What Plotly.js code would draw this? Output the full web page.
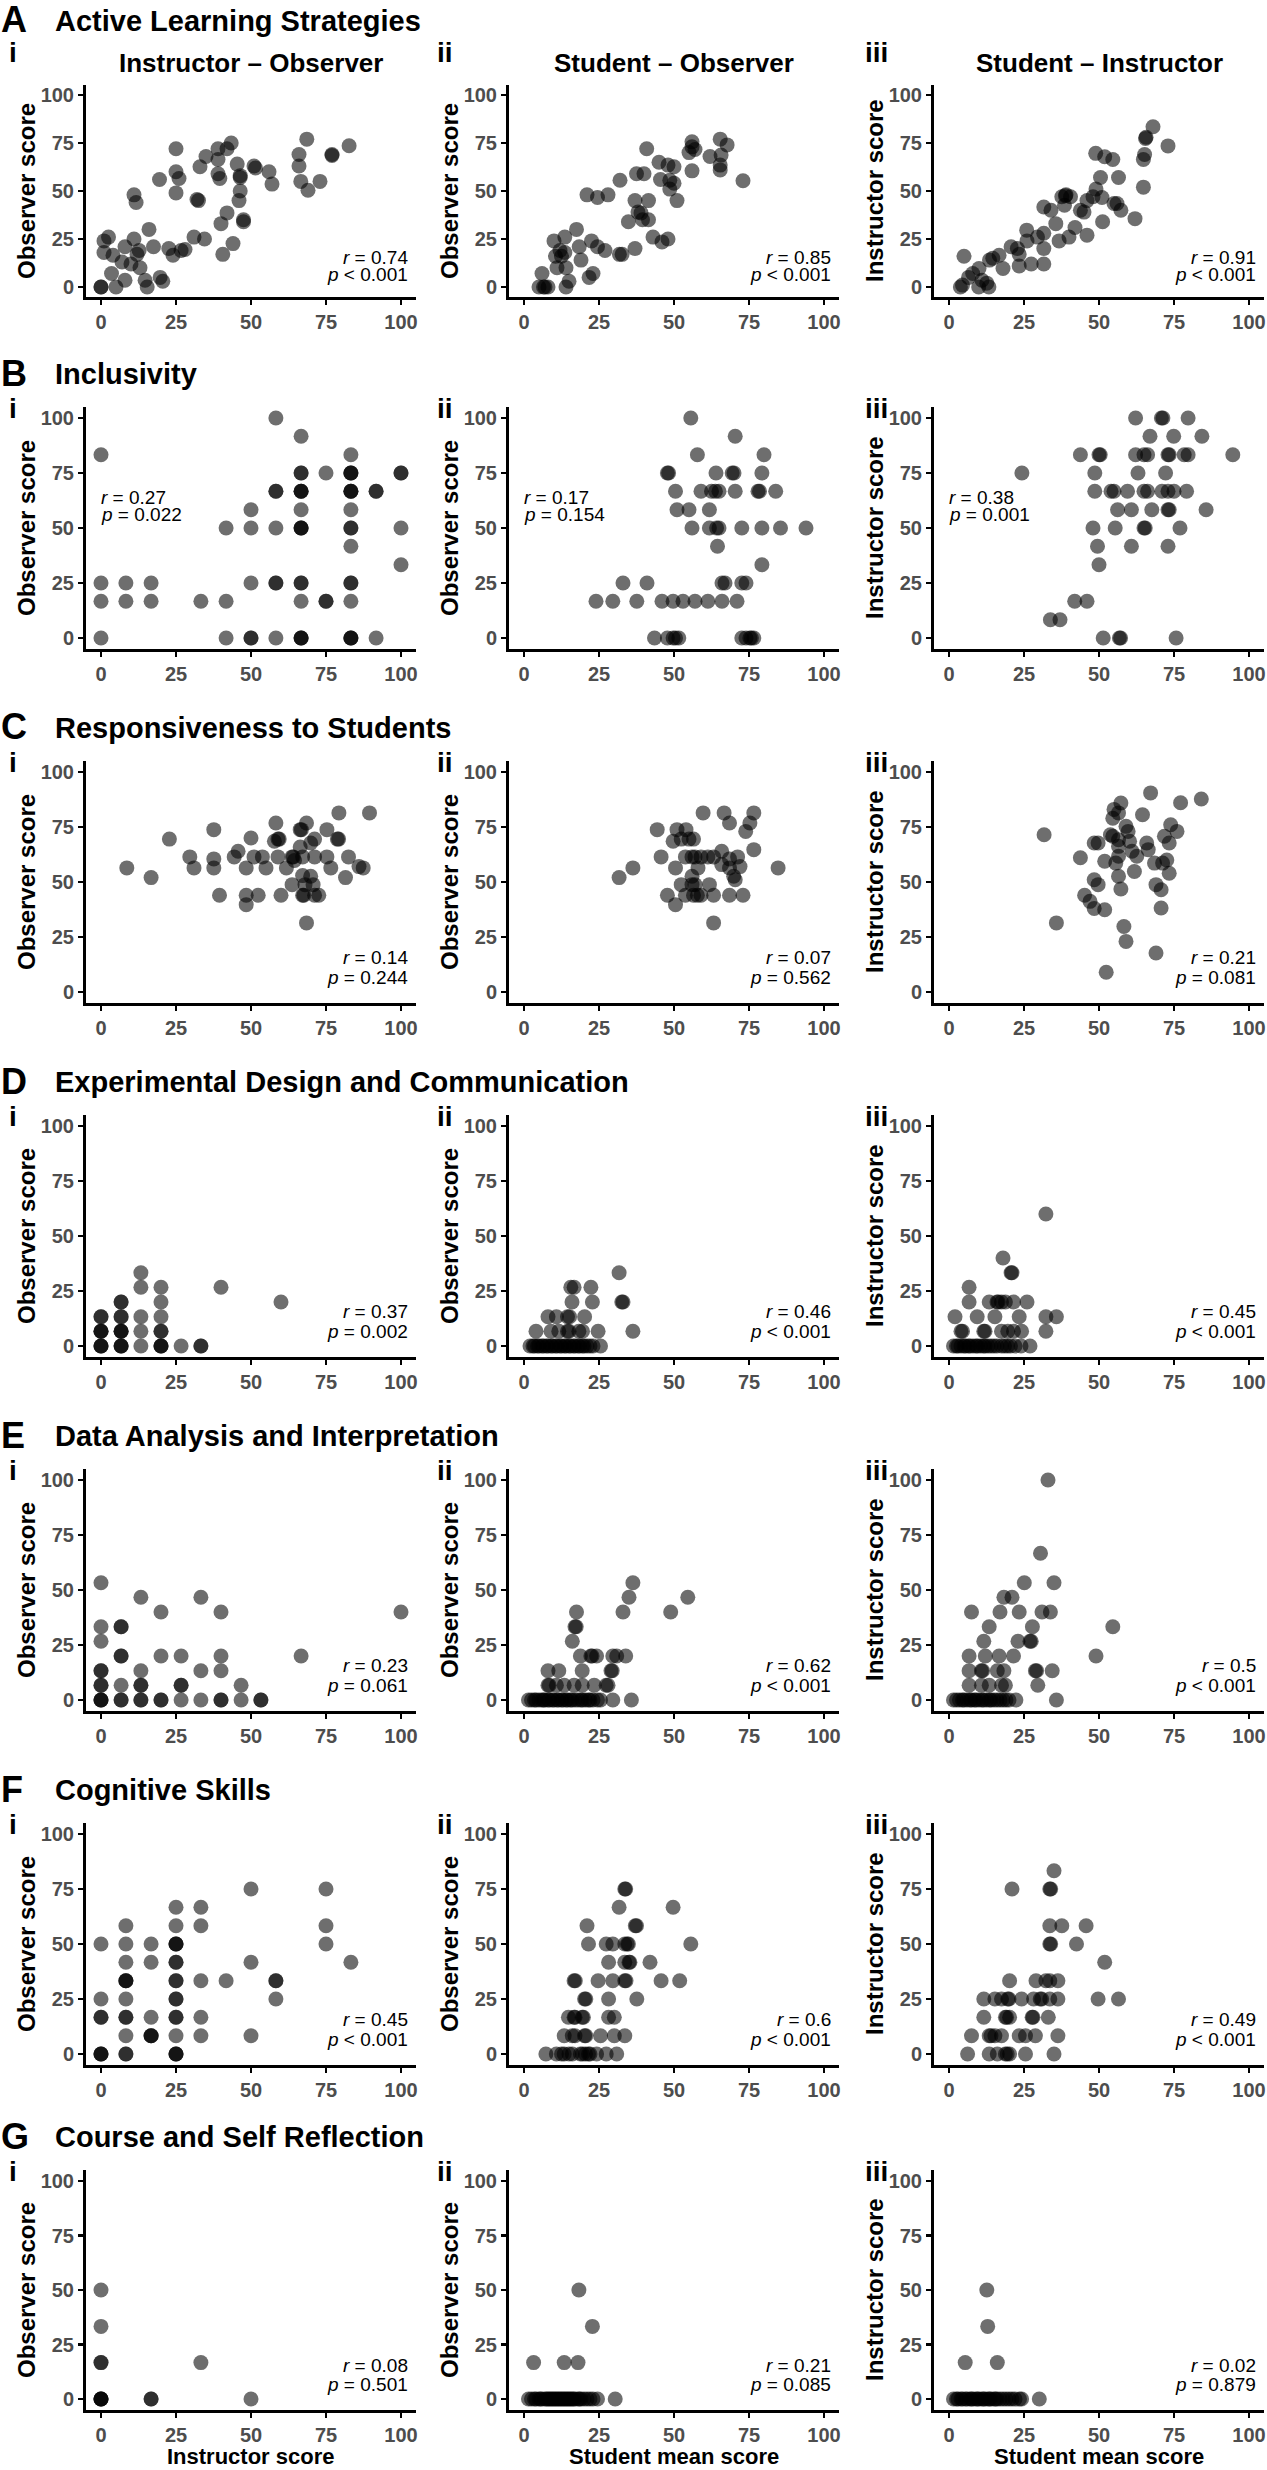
<!DOCTYPE html>
<html>
<head>
<meta charset="utf-8">
<script src="https://cdn.plot.ly/plotly-3.0.1.min.js"></script>
<style>html,body{margin:0;padding:0;background:#fff}#chart{width:1267px;height:2470px}</style>
</head>
<body>
<div id="chart"></div>
<script>
// ---------------- DATA ----------------
const rowLetters = ['A','B','C','D','E','F','G'];
const rowTitles = ['Active Learning Strategies','Inclusivity','Responsiveness to Students',
  'Experimental Design and Communication','Data Analysis and Interpretation','Cognitive Skills','Course and Self Reflection'];
const panelLabels = ['i','ii','iii'];
const colTitles = ['Instructor \u2013 Observer','Student \u2013 Observer','Student \u2013 Instructor'];
const yTitles = ['Observer score','Observer score','Instructor score'];
const xTitles = ['Instructor score','Student mean score','Student mean score'];
const tickVals = [0,25,50,75,100];
const tickText = ['0','25','50','75','100'];
const rVals = [['0.74','0.85','0.91'],['0.27','0.17','0.38'],['0.14','0.07','0.21'],
  ['0.37','0.46','0.45'],['0.23','0.62','0.5'],['0.45','0.6','0.49'],['0.08','0.21','0.02']];
const pVals = [['< 0.001','< 0.001','< 0.001'],['= 0.022','= 0.154','= 0.001'],['= 0.244','= 0.562','= 0.081'],
  ['= 0.002','< 0.001','< 0.001'],['= 0.061','< 0.001','< 0.001'],['< 0.001','< 0.001','< 0.001'],['= 0.501','= 0.085','= 0.879']];

// Points as [x, y]
const A_i = [[0,0],[0,0],[1,24],[2.5,26],[1,18],[4,16.5],[3.5,7],[5,0],[8,21],[7,13],[8,3.5],[11,48],[11.7,44],[11,25],[10,12],[12,17],[12.7,19],[13,10],[14.7,3.5],[15.4,0],[16,30],[17.5,21],[19.5,56],[19.7,5],[20.6,3],[22.6,20],[24,16.5],[25,72],[25,60],[26,56.5],[25,49],[26.7,19],[28,19.5],[31,26],[32,45.6],[32.5,45],[33,62.6],[34.5,25],[35,68],[39,72],[39,66.4],[39,59],[39.6,56.5],[40,33],[40.6,17],[42,38.6],[42,72],[43.4,75],[44,22.6],[45.4,64],[46,45],[46.4,50],[46.4,58],[46.4,57],[47.5,35],[47.5,34],[51,63],[51.5,62],[56,60],[57,53.6],[66,69],[66,63],[66.6,55],[68.6,77],[69,50.4],[73,55],[77,69],[77,68.5],[82.7,73.6]];
const A_ii = [[5,0],[6.5,0],[8,0],[7,0],[6,7],[10,24],[13.6,26],[12,19],[13.6,18],[10.5,16],[12.5,16],[11,10],[14,10],[14,0],[15,3],[17.5,30],[18.4,21],[19,14],[21.7,5],[23,7],[22.5,24],[24.5,21],[27,19],[21,48],[24.5,46.6],[28,48],[31.8,17],[32.7,17],[32,55.6],[34.8,34],[37,20],[37,45],[37.5,59],[38,39],[39.5,35],[41.5,35],[39,38.6],[41.5,45],[40.9,72],[40,59],[45,65],[45.5,56],[48,63.5],[48.6,55.6],[50,62.6],[48.6,51],[50,54],[51,45],[43,26],[46,23.5],[48,25],[56,75.6],[55,70],[57,71.6],[56,73],[56,60.5],[62,68],[65.4,77],[65.7,68.7],[65.4,63.5],[65.4,61],[67.7,74],[73,55.3]];
const A_iii = [[3.8,0],[4.5,1],[5,16],[6.5,5],[7.9,7],[9.9,0],[10,9.6],[11,3.5],[12.6,2],[13.3,0],[13.5,14],[14.6,15],[16.7,16.5],[18,9.6],[20.7,21],[22.8,20],[23.4,17],[23.4,11],[27.4,12],[31.6,12],[25.9,29.6],[26,24],[29.5,26],[31.6,28],[31.6,20],[31.6,41.7],[34,40],[35.6,33],[36.7,24],[40,26],[42,31],[46,27],[37.6,47],[39,48],[40.5,47],[38.5,42.6],[38.8,47.5],[43.8,40],[45,39],[46,45],[48,47],[49,51],[50.5,57],[51,46.6],[48.9,69.6],[51.9,67.8],[54.6,66.4],[51.2,34],[55,43.5],[56,43.5],[56.5,57],[57.3,40],[62,35.6],[64.8,52],[64.8,66.4],[65.2,69],[65.5,77.4],[65.7,78],[68,83.5],[73,73.5]];

const B_i = [[0,83.3],[0,25],[0,16.7],[0,0],[8.3,25],[8.3,16.7],[16.7,25],[16.7,16.7],[33.3,16.7],[41.7,50],[41.7,16.7],[41.7,0],[50,58.3],[50,50],[50,25],[50,0],[50,0],[58.3,100],[58.3,66.7],[58.3,66.7],[58.3,50],[58.3,25],[58.3,25],[58.3,0],[66.7,91.7],[66.7,75],[66.7,75],[66.7,66.7],[66.7,66.7],[66.7,66.7],[66.7,58.3],[66.7,50],[66.7,50],[66.7,50],[66.7,25],[66.7,25],[66.7,16.7],[66.7,0],[66.7,0],[66.7,0],[75,75],[75,16.7],[75,16.7],[83.3,83.3],[83.3,75],[83.3,75],[83.3,75],[83.3,66.7],[83.3,66.7],[83.3,66.7],[83.3,58.3],[83.3,50],[83.3,50],[83.3,41.7],[83.3,25],[83.3,25],[83.3,16.7],[83.3,0],[83.3,0],[83.3,0],[91.7,66.7],[91.7,66.7],[91.7,0],[100,75],[100,75],[100,50],[100,33.3]];
const B_ii = [[55.6,100],[70.4,91.7],[57.8,83.3],[80,83.3],[47.8,75],[48.2,75],[64,75],[69.4,75],[70,75],[79.3,75],[50.5,66.7],[59,66.7],[62.5,66.7],[63.8,66.7],[65,66.7],[70.4,66.7],[78,66.7],[78.5,66.7],[83.9,66.7],[51,58.3],[55,58.3],[61.8,58.3],[56,50],[61.8,50],[64.2,50],[65,50],[72.6,50],[79.3,50],[85.5,50],[94,50],[64.5,41.7],[79.3,33.3],[33,25],[41,25],[66,25],[67,25],[72.6,25],[74,25],[24,16.7],[29.6,16.7],[37.6,16.7],[46,16.7],[49.7,16.7],[53,16.7],[57,16.7],[61.3,16.7],[66,16.7],[71,16.7],[43.5,0],[47.8,0],[49.7,0],[51.6,0],[50.5,0],[72.6,0],[74,0],[75.3,0],[76.6,0],[75.8,0]];
const B_iii = [[62.2,100],[70.8,100],[71.3,100],[79.7,100],[67,91.7],[74.9,91.7],[84.3,91.7],[43.8,83.3],[50,83.3],[50.4,83.3],[62.2,83.3],[65,83.3],[66.2,83.3],[73,83.3],[73.4,83.3],[78.4,83.3],[79.7,83.3],[94.6,83.3],[24.3,75],[48.6,75],[63,75],[72.2,75],[48.6,66.7],[54,66.7],[55,66.7],[59.5,66.7],[65,66.7],[66.2,66.7],[71,66.7],[73,66.7],[75,66.7],[79.2,66.7],[56.2,58.3],[60.8,58.3],[67.6,58.3],[73,58.3],[73.4,58.3],[85.7,58.3],[48,50],[55.4,50],[65,50],[65.4,50],[77,50],[49.5,41.7],[60.8,41.7],[73,41.7],[50,33.3],[41.9,16.7],[46,16.7],[33.8,8.3],[37,8.3],[51.4,0],[56.8,0],[57.2,0],[75.7,0]];

const C_i = [[8.6,56.4],[16.7,52],[22.8,69.5],[29.6,61.4],[31,56.4],[37.6,73.8],[37.6,60.5],[37.6,56.4],[39.5,44],[44.4,61.4],[45.7,64],[48.4,56.4],[48.4,44],[48.4,39.7],[50,70],[51,61.4],[52.4,44],[53.8,61.4],[55,56.4],[57.8,68.5],[58.3,76.8],[59,69.5],[59.4,69.5],[59,61.4],[60,44],[61.8,56.4],[63.7,61.4],[64.1,61.4],[63.7,48.8],[64.5,59.8],[66.4,73.8],[66.8,73.8],[67.2,44],[67.6,44],[67.2,61.4],[66.4,65.9],[67.2,52.9],[68,48.8],[68.5,76.8],[68.5,31.4],[69.9,67.7],[69.9,52.6],[70.7,48.8],[71.2,44],[71.2,69.5],[71.2,61.4],[72.6,44],[75.3,73.8],[75.3,61.4],[76.6,56.4],[78.8,69.5],[79.2,69.5],[79.3,81.4],[81.5,52],[82.5,61.4],[86,57],[87.4,56.4],[89.5,81.4]];
const C_ii = [[31.7,52],[36.3,56.4],[44.4,73.8],[45.7,61.4],[47.8,44],[50.5,39.7],[49.7,68.5],[51,73.8],[52.4,48.8],[53.8,44],[52.4,69.5],[55,69.5],[56.5,69.5],[50.5,56.4],[53.8,61.4],[56,61.4],[57,61.4],[59,61.4],[61.3,61.4],[63.2,61.4],[56,48.8],[57,48.8],[56.5,44],[57.8,44],[59,44],[56,52.6],[59.7,81.4],[61.8,48.8],[63.2,44],[63.2,31.4],[66.7,81.4],[65.9,64],[65.9,57.9],[68.5,76.8],[68.5,60.5],[68.5,56.4],[68.5,44],[69.9,52.6],[70.4,51],[71.2,61.4],[73.9,73],[73,44],[75.3,76.8],[76.6,81.4],[76.6,64.7],[84.7,56.4],[72,57],[54,73.8],[58,56.4]];
const C_iii = [[31.7,71.5],[35.8,31.4],[43.8,61],[45.2,44],[47,41.2],[48.4,38],[51.9,37.4],[48.4,51],[49.7,48.8],[48.4,67.7],[49.7,67.7],[51.9,59.4],[52.4,9],[53.8,71.5],[54.6,70.8],[56.5,69.2],[54.6,79],[55,83],[56.5,81.4],[56.5,66.2],[56.5,61.7],[55.6,58.6],[56.5,52.6],[57.3,46.8],[58.3,29.8],[59,23],[57.3,85.9],[59,75.3],[59.7,73],[60.2,68.5],[61,64],[61.8,54.8],[62.6,61.7],[64.5,80.6],[65.9,67.7],[66.4,64.7],[67.2,90.5],[68.5,58.6],[69,48.8],[69,17.7],[70.7,46.5],[70.7,38.2],[71.2,58.6],[71.8,70.8],[72.6,60],[73.4,54],[73.4,67.7],[73.9,76],[76,73],[77.2,86],[84.1,87.7]];

const D_i = [[0,0],[0,0],[0,0],[0,6.7],[0,6.7],[0,6.7],[0,13.3],[0,13.3],[6.7,0],[6.7,0],[6.7,0],[6.7,6.7],[6.7,6.7],[6.7,6.7],[6.7,13.3],[6.7,13.3],[6.7,20],[6.7,20],[13.3,0],[13.3,6.7],[13.3,13.3],[13.3,26.7],[13.3,33.3],[20,0],[20,0],[20,0],[20,6.7],[20,6.7],[20,13.3],[20,20],[20,26.7],[26.7,0],[33.3,0],[33.3,0],[40,26.7],[60,20]];
const D_ii = [[2,0],[3,0],[3.5,0],[4.5,0],[5,0],[6,0],[6.5,0],[7.5,0],[8,0],[9,0],[9.5,0],[10.5,0],[11,0],[12,0],[12.5,0],[13.5,0],[14,0],[15,0],[15.5,0],[16.5,0],[17,0],[18,0],[18.5,0],[19.5,0],[20,0],[21,0],[22,0],[23,0],[25.5,0],
  [4,6.7],[9,6.7],[11.6,6.7],[14.5,6.7],[15,6.7],[18.3,6.7],[19.5,6.7],[24.7,6.7],[36.3,6.7],
  [8,13.3],[10.8,13.3],[14.5,13.3],[15.2,13.3],[20.2,13.3],[16,20],[22.8,20],[32.6,20],[33,20],[15.6,26.7],[16.7,26.7],[22.3,26.7],[31.7,33.3]];
const D_iii = [[1.5,0],[2.5,0],[3,0],[4,0],[5,0],[5.5,0],[6.5,0],[7,0],[8,0],[9,0],[9.5,0],[10.5,0],[11.5,0],[12,0],[13,0],[14,0],[15,0],[16,0],[17.5,0],[18.5,0],[19.5,0],[20.5,0],[22,0],[24,0],[27,0],
  [4,6.7],[4.5,6.7],[11.6,6.7],[12,6.7],[17.5,6.7],[19.6,6.7],[21.5,6.7],[24.2,6.7],[32.3,6.7],
  [2,13.3],[9.4,13.3],[15.3,13.3],[23.4,13.3],[32.3,13.3],[35.8,13.3],
  [6.7,20],[13.4,20],[16,20],[16.4,20],[17.5,20],[18.8,20],[21.5,20],[26,20],[6.7,26.7],[20.7,33.3],[21,33.3],[18,40],[32.3,60]];

const E_i = [[0,0],[0,0],[0,0],[0,6.7],[0,6.7],[0,13.3],[0,13.3],[0,26.7],[0,33.3],[0,53.3],[6.7,0],[6.7,0],[6.7,6.7],[6.7,20],[6.7,20],[6.7,33.3],[6.7,33.3],[13.3,0],[13.3,0],[13.3,6.7],[13.3,6.7],[13.3,13.3],[13.3,46.7],[20,0],[20,0],[20,20],[20,40],[26.7,0],[26.7,6.7],[26.7,6.7],[26.7,20],[33.3,0],[33.3,13.3],[33.3,46.7],[40,0],[40,0],[40,13.3],[40,20],[40,40],[46.7,0],[46.7,6.7],[53.3,0],[53.3,0],[66.7,20],[100,40]];
const E_ii = [[1.5,0],[2.5,0],[3.5,0],[4,0],[5,0],[6,0],[6.5,0],[7,0],[8,0],[8.5,0],[9.5,0],[10,0],[11,0],[11.5,0],[12.5,0],[13,0],[14,0],[14.5,0],[15.5,0],[16,0],[17,0],[18,0],[19,0],[19.5,0],[20.5,0],[21.5,0],[22,0],[23,0],[24.5,0],[25.5,0],[29.6,0],[35.8,0],
  [8,6.7],[8.4,6.7],[10.8,6.7],[13.4,6.7],[16.7,6.7],[19.4,6.7],[23.4,6.7],[27.4,6.7],[28,6.7],
  [8,13.3],[11.6,13.3],[19.4,13.3],[29,13.3],[29.4,13.3],
  [18.8,20],[22.3,20],[22.7,20],[24.2,20],[29.6,20],[30.9,20],[33.9,20],[16.1,26.7],[17,33.3],[17.4,33.3],[17.5,40],[33,40],[48.9,40],[35,46.7],[54.6,46.7],[36.3,53.3]];
const E_iii = [[1.5,0],[2.5,0],[3.5,0],[4.5,0],[5,0],[6,0],[7,0],[7.5,0],[8.5,0],[9,0],[10,0],[11,0],[11.5,0],[12.5,0],[13.5,0],[14,0],[15,0],[16,0],[17,0],[18,0],[19,0],[20,0],[22.3,0],[35.8,0],
  [6.7,6.7],[10.8,6.7],[13.4,6.7],[17.5,6.7],[18.8,6.7],[29.6,6.7],
  [6.7,13.3],[10.8,13.3],[11.2,13.3],[16.1,13.3],[18.3,13.3],[28.8,13.3],[29.2,13.3],[34.4,13.3],
  [6.7,20],[12.1,20],[16.7,20],[21.5,20],[49,20],[11.6,26.7],[23,26.7],[27,26.7],[27.4,26.7],[13.4,33.3],[27.8,33.3],[54.6,33.3],
  [7.5,40],[17,40],[23.4,40],[31,40],[33.8,40],[18.3,46.7],[21,46.7],[25.1,53.3],[35,53.3],[30.5,66.7],[33,100]];

const F_i = [[0,0],[0,0],[0,0],[0,16.7],[0,16.7],[0,25],[0,50],[8.3,0],[8.3,0],[8.3,8.3],[8.3,16.7],[8.3,16.7],[8.3,25],[8.3,33.3],[8.3,33.3],[8.3,33.3],[8.3,41.7],[8.3,50],[8.3,58.3],[16.7,8.3],[16.7,8.3],[16.7,8.3],[16.7,16.7],[16.7,41.7],[16.7,50],[25,0],[25,0],[25,0],[25,8.3],[25,16.7],[25,16.7],[25,25],[25,25],[25,33.3],[25,33.3],[25,41.7],[25,41.7],[25,50],[25,50],[25,50],[25,58.3],[25,66.7],[33.3,8.3],[33.3,16.7],[33.3,33.3],[33.3,58.3],[33.3,66.7],[41.7,33.3],[50,8.3],[50,41.7],[50,75],[58.3,33.3],[58.3,33.3],[58.3,25],[75,75],[75,58.3],[75,50],[83.3,41.7]];
const F_ii = [[7.3,0],[10.8,0],[12.5,0],[13.4,0],[15,0],[16.1,0],[18.8,0],[19.5,0],[20.5,0],[21.5,0],[22,0],[24.2,0],[27.4,0],[30.9,0],
  [13.4,8.3],[16.1,8.3],[17,8.3],[20.2,8.3],[20.6,8.3],[25.5,8.3],[30.1,8.3],[33.6,8.3],
  [14.8,16.7],[16.7,16.7],[17,16.7],[19.4,16.7],[19.8,16.7],[28.2,16.7],[30.1,16.7],
  [20.2,25],[20.6,25],[28.2,25],[37.6,25],
  [16.7,33.3],[17.1,33.3],[24.7,33.3],[29.6,33.3],[33.6,33.3],[34,33.3],[45.7,33.3],[51.9,33.3],
  [28.2,41.7],[33.6,41.7],[35,41.7],[35.3,41.7],[42,41.7],
  [21.5,50],[27.4,50],[29.6,50],[33.6,50],[34.4,50],[34.8,50],[55.6,50],[21,58.3],[37.1,58.3],[37.5,58.3],[31.7,66.7],[49.7,66.7],[33.6,75],[33.9,75]];
const F_iii = [[6.2,0],[13.4,0],[16.1,0],[18.8,0],[19.4,0],[20.2,0],[25.5,0],[35,0],
  [7.5,8.3],[13.4,8.3],[14,8.3],[15.3,8.3],[17.5,8.3],[23.4,8.3],[25.5,8.3],[28.8,8.3],[36.3,8.3],
  [11.6,16.7],[18.8,16.7],[19.2,16.7],[20.2,16.7],[27.7,16.7],[28,16.7],[33.1,16.7],
  [11.6,25],[15.3,25],[17.5,25],[19.6,25],[20,25],[24.2,25],[28.2,25],[30.4,25],[30.9,25],[33.6,25],[36.3,25],[49.7,25],[56.5,25],
  [20.2,33.3],[29,33.3],[32.3,33.3],[33.6,33.3],[36.3,33.3],[51.9,41.7],[33.6,50],[33.9,50],[42.5,50],[33.6,58.3],[37.6,58.3],[45.7,58.3],[21,75],[33.6,75],[33.9,75],[35,83.3]];

const G_i = [[0,0],[0,0],[0,0],[0,0],[0,16.7],[0,16.7],[0,33.3],[0,50],[16.7,0],[16.7,0],[33.3,16.7],[50,0]];
const G_ii = [[1.5,0],[2.5,0],[3.5,0],[4,0],[5,0],[5.5,0],[6,0],[7,0],[7.5,0],[8,0],[8.5,0],[9,0],[9.5,0],[10,0],[10.5,0],[11,0],[11.5,0],[12,0],[12.5,0],[13,0],[13.5,0],[14,0],[14.5,0],[15,0],[15.5,0],[16,0],[16.5,0],[17,0],[18,0],[18.5,0],[19,0],[20,0],[21,0],[22,0],[23,0],[24.5,0],[30.4,0],
  [3.2,16.7],[13.4,16.7],[18,16.7],[22.8,33.3],[18.3,50]];
const G_iii = [[1.5,0],[2.5,0],[3,0],[4,0],[4.5,0],[5.5,0],[6,0],[7,0],[7.5,0],[8,0],[9,0],[9.5,0],[10,0],[11,0],[11.5,0],[12,0],[13,0],[13.5,0],[14,0],[15,0],[15.5,0],[16,0],[17,0],[18,0],[19,0],[20,0],[21,0],[22,0],[23.5,0],[24.2,0],[30.1,0],
  [5.4,16.7],[16.1,16.7],[12.9,33.3],[12.6,50]];

const panels = [[A_i,A_ii,A_iii],[B_i,B_ii,B_iii],[C_i,C_ii,C_iii],[D_i,D_ii,D_iii],[E_i,E_ii,E_iii],[F_i,F_ii,F_iii],[G_i,G_ii,G_iii]];

// ---------------- LAYOUT ----------------
const W = 1267, H = 2470;
const FONT = 'Liberation Sans, Arial, Helvetica, sans-serif';
const zeroX = [101, 524, 949];          // px of x=0 per column
const pxPerX = 3.0;
const top100 = [95, 418, 772, 1126, 1480, 1834, 2181]; // px of y=100 per row
const pxPerY = [1.92, 2.2, 2.2, 2.2, 2.2, 2.2, 2.18];

const px = v => v / W;
const py = v => 1 - v / H;

const layout = {
  width: W, height: H,
  margin: {l: 0, r: 0, t: 0, b: 0},
  paper_bgcolor: '#fff', plot_bgcolor: 'rgba(0,0,0,0)',
  showlegend: false,
  font: {family: FONT, color: '#000'},
  annotations: []
};
const traces = [];
const ann = layout.annotations;

for (let r = 0; r < 7; r++) {
  const t100 = top100[r], s = pxPerY[r];
  const yTopPx = t100 - 5 * s, yBotPx = t100 + 105 * s;
  const titleY = r === 0 ? 20 : t100 - 45;
  ann.push({xref: 'paper', yref: 'paper', x: 0, y: py(titleY), xanchor: 'left', yanchor: 'middle',
    text: rowLetters[r], showarrow: false, borderpad: 0, font: {family: FONT, size: 36, weight: 'bold', color: '#000'}});
  ann.push({xref: 'paper', yref: 'paper', x: px(54), y: py(titleY + 1), xanchor: 'left', yanchor: 'middle',
    text: rowTitles[r], showarrow: false, borderpad: 0, font: {family: FONT, size: 29, weight: 'bold', color: '#000'}});
  for (let c = 0; c < 3; c++) {
    const n = r * 3 + c + 1;
    const z = zeroX[c];
    const axCommon = {
      range: [-5, 105], showline: true, linecolor: '#000', linewidth: 3,
      ticks: 'outside', ticklen: 5, tickwidth: 2.5, tickcolor: '#000',
      tickmode: 'array', tickvals: tickVals, ticktext: tickText,
      tickfont: {family: FONT, size: 20, color: '#4d4d4d', weight: 'bold'},
      showgrid: false, zeroline: false, fixedrange: true
    };
    layout['xaxis' + n] = Object.assign({}, axCommon, {domain: [px(z - 5 * pxPerX), px(z + 105 * pxPerX)], anchor: 'y' + n});
    layout['yaxis' + n] = Object.assign({}, axCommon, {domain: [py(yBotPx), py(yTopPx)], anchor: 'x' + n});
    const pts = panels[r][c];
    traces.push({
      type: 'scatter', mode: 'markers',
      x: pts.map(p => p[0]), y: pts.map(p => p[1]),
      xaxis: 'x' + n, yaxis: 'y' + n,
      marker: {size: 15, color: 'rgba(0,0,0,0.57)', line: {width: 0}},
      hoverinfo: 'skip', cliponaxis: false
    });
    const labY = r === 0 ? 53 : t100 - 10;
    ann.push({xref: 'paper', yref: 'paper', x: px([8, 436, 864][c]), y: py(labY), xanchor: 'left', yanchor: 'middle',
      text: panelLabels[c], showarrow: false, borderpad: 0, font: {family: FONT, size: 28, weight: 'bold', color: '#000'}});
    ann.push({xref: 'paper', yref: 'paper', x: px(z - 75), y: py((yTopPx + yBotPx) / 2), xanchor: 'center', yanchor: 'middle',
      text: yTitles[c], textangle: -90, showarrow: false, borderpad: 0, font: {family: FONT, size: 24, weight: 'bold', color: '#000'}});
    if (r === 0) {
      ann.push({xref: 'paper', yref: 'paper', x: px(z + 150), y: py(63), xanchor: 'center', yanchor: 'middle',
        text: colTitles[c], showarrow: false, borderpad: 0, font: {family: FONT, size: 26, weight: 'bold', color: '#000'}});
    }
    if (r === 6) {
      ann.push({xref: 'paper', yref: 'paper', x: px(z + 150), y: 0, xanchor: 'center', yanchor: 'bottom',
        text: xTitles[c], showarrow: false, borderpad: 0, font: {family: FONT, size: 22, weight: 'bold', color: '#000'}});
    }
    const left = (r === 1);
    const rTxt = '<i>r</i> = ' + rVals[r][c];
    const pTxt = '<i>p</i> ' + pVals[r][c].replace('<', '&lt;');
    const sf = {family: FONT, size: 19, color: '#000'};
    ann.push({xref: 'x' + n, yref: 'y' + n, x: left ? -0.5 : 102.5, y: left ? 64 : 15.5,
      xanchor: left ? 'left' : 'right', yanchor: 'middle', text: rTxt, showarrow: false, borderpad: 0, font: sf});
    ann.push({xref: 'x' + n, yref: 'y' + n, x: left ? -0.5 : 102.5, y: left ? 56 : 6.5,
      xanchor: left ? 'left' : 'right', yanchor: 'middle', text: pTxt, showarrow: false, borderpad: 0, font: sf});
  }
}

Plotly.newPlot('chart', traces, layout, {staticPlot: true, displayModeBar: false});
</script>
</body>
</html>
